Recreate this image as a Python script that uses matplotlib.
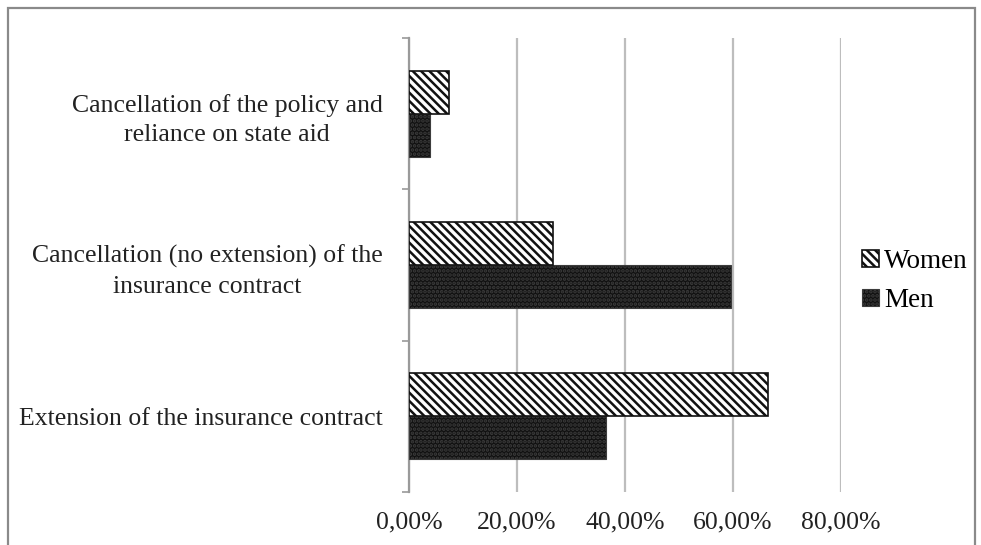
import numpy as np
import matplotlib
matplotlib.use("Agg")
from matplotlib import pyplot as plt
from matplotlib.patches import Rectangle

categories = ["Extension of the insurance contract",
              "Cancellation (no extension) of the\ninsurance contract",
              "Cancellation of the policy and\nreliance on state aid"]
women = [0.665, 0.267, 0.074]
men = [0.365, 0.596, 0.039]
xticks = [0.0, 0.2, 0.4, 0.6, 0.8]

plt.rcParams['font.family'] = ['Liberation Serif', 'DejaVu Serif']
plt.rcParams['hatch.linewidth'] = 1.8

fig = plt.figure(figsize=(9.81, 5.45), dpi=100)
ax = fig.add_axes([409/981, 1-492/545, (841-409)/981, (492-38)/545])

y = np.arange(len(categories))
h = 0.285
ax.barh(y - h/2, men, height=h, color='#111111', edgecolor='#3c3c3c',
        hatch='....', linewidth=0.8, label='Men', zorder=3)
ax.barh(y + h/2, women, height=h, color='white', edgecolor='#111111',
        hatch='\\\\\\\\', linewidth=1.2, label='Women', zorder=3)

ax.set_xlim(0, 0.8)
ax.set_ylim(-0.5, 2.5)
ax.set_xticks(xticks)
ax.set_xticklabels(["{:.2f}%".format(v*100).replace('.', ',') for v in xticks],
                   fontsize=18.5, color='#222222')
ax.tick_params(axis='x', length=0, pad=14)
ax.grid(axis='x', color='#bdbdbd', linewidth=1.6, zorder=0)

ax.set_yticks(y)
ax.set_yticklabels(categories, fontsize=18.5, color='#222222',
                   multialignment='center', linespacing=1.45)
ax.tick_params(axis='y', which='major', length=0, pad=19)
ax.set_yticks([-0.5, 0.5, 1.5, 2.5], minor=True)
ax.tick_params(axis='y', which='minor', length=5, color='#9a9a9a', width=1.2)

for s in ['top', 'right', 'bottom']:
    ax.spines[s].set_visible(False)
ax.spines['left'].set_color('#9a9a9a')
ax.spines['left'].set_linewidth(1.6)

handles, labels = ax.get_legend_handles_labels()
fig.legend(handles[::-1], labels[::-1], loc='center left', bbox_to_anchor=(838/981, 1-281/545),
           frameon=False, fontsize=19.5, handlelength=0.6, handleheight=0.6,
           handletextpad=0.2, labelspacing=0.5)

fig.patches.append(Rectangle((8/981, -0.05), (975-8)/981, 1-8/545+0.05,
                             transform=fig.transFigure, fill=False,
                             edgecolor='#8a8a8a', linewidth=1.6))

fig.savefig("out.png", dpi=100)
